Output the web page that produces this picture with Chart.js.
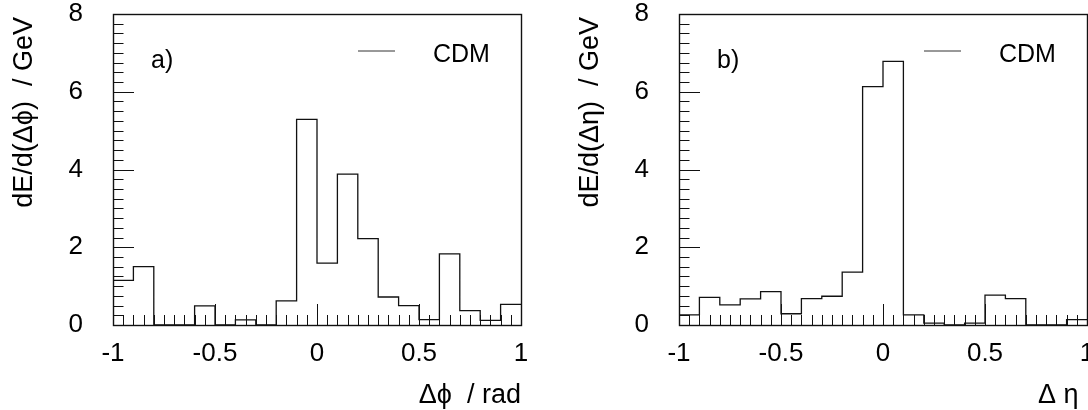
<!DOCTYPE html>
<html><head><meta charset="utf-8">
<script src="https://cdn.jsdelivr.net/npm/chart.js@4.4.1/dist/chart.umd.min.js"></script>
<style>
html,body{margin:0;padding:0;background:#fff;}
#wrap{position:relative;width:1088px;height:410px;overflow:hidden;}
canvas{position:absolute;top:0;}
</style></head>
<body><div id="wrap"><canvas id="ca" width="566" height="410" style="left:0"></canvas><canvas id="cb" width="566" height="410" style="left:566px"></canvas></div>
<script>
// bin edges: 20 bins of width 0.1 from -1 to 1
const binEdges = [-1,-0.9,-0.8,-0.7,-0.6,-0.5,-0.4,-0.3,-0.2,-0.1,0,0.1,0.2,0.3,0.4,0.5,0.6,0.7,0.8,0.9,1];
const dphiValues = [1.15,1.50,0,0,0.49,0,0.13,0,0.62,5.29,1.59,3.88,2.22,0.72,0.50,0.14,1.83,0.37,0.12,0.53];
const detaValues = [0.26,0.71,0.52,0.67,0.86,0.29,0.68,0.74,1.36,6.13,6.78,0.26,0.05,0,0.05,0.77,0.68,0,0,0.14];
const xTickValues = [-1,-0.5,0,0.5,1];
const xTickLabels = ['-1','-0.5','0','0.5','1'];
const yTickValues = [0,2,4,6,8];
const yTickLabels = ['0','2','4','6','8'];

const FONT = "'Liberation Sans', Arial, Helvetica, sans-serif";

function makePoints(vals){
  const pts = vals.map((v,i)=>({x:binEdges[i], y:v}));
  pts.push({x:binEdges[binEdges.length-1], y:vals[vals.length-1]});
  return pts;
}

function framePlugin(cfg){
  return {
    id:'frame',
    afterDraw(chart){
      const ctx = chart.ctx, a = chart.chartArea;
      const xs = chart.scales.x, ys = chart.scales.y;
      ctx.save();
      ctx.strokeStyle = '#111';
      ctx.lineWidth = 1;
      ctx.beginPath();
      // inward ticks on x
      for(let k=0;k<=40;k++){
        const v = -1 + k*0.05;
        const px = Math.round(xs.getPixelForValue(v))+0.5;
        const len = (k%10===0) ? 21 : 10;
        ctx.moveTo(px, a.bottom); ctx.lineTo(px, a.bottom-len);
      }
      // inward ticks on y
      for(let k=0;k<=32;k++){
        const v = k*0.25;
        const py = Math.round(ys.getPixelForValue(v))+0.5;
        const len = (k%8===0) ? 21 : 10.5;
        ctx.moveTo(a.left, py); ctx.lineTo(a.left+len, py);
      }
      ctx.stroke();
      // frame
      ctx.lineWidth = 1.4;
      ctx.strokeRect(Math.round(a.left)+0.5, Math.round(a.top)+0.5, Math.round(a.right-a.left), Math.round(a.bottom-a.top));
      // legend
      ctx.lineWidth = 1;
      ctx.strokeStyle = '#333';
      ctx.beginPath();
      ctx.moveTo(a.left+245, 51); ctx.lineTo(a.left+282, 51);
      ctx.stroke();
      ctx.fillStyle = '#000';
      ctx.font = '25px ' + FONT;
      ctx.textBaseline = 'alphabetic';
      ctx.textAlign = 'left';
      ctx.fillText('CDM', a.left+320, 62);
      ctx.fillText(cfg.tag, a.left+38, 68);
      // x title
      ctx.font = '27px ' + FONT;
      ctx.textBaseline = 'middle';
      ctx.textAlign = cfg.xTitleAlign;
      ctx.fillText(cfg.xTitle, cfg.xTitleX, 396);
      // y title
      ctx.save();
      ctx.translate(25, 17);
      ctx.rotate(-Math.PI/2);
      ctx.textAlign = 'right';
      ctx.fillText(cfg.yTitle, 0, 0);
      ctx.restore();
      ctx.restore();
    }
  };
}

function makePanel(id, vals, cfg){
  new Chart(document.getElementById(id), {
    type:'line',
    data:{datasets:[{data:makePoints(vals), stepped:'before', borderColor:'#111', borderWidth:1.3, pointRadius:0, fill:false}]},
    options:{
      responsive:false, animation:false,
      layout:{padding:{left:0, top:14, right:45, bottom:0}},
      plugins:{legend:{display:false}, tooltip:{enabled:false}},
      scales:{
        x:{type:'linear', min:-1, max:1,
           afterBuildTicks(s){ s.ticks = xTickValues.map(v=>({value:v})); },
           ticks:{autoSkip:false, maxRotation:0, padding:13, color:'#000', font:{family:FONT, size:26},
                  callback:(v)=>{const i=xTickValues.indexOf(v); return i>=0?xTickLabels[i]:'';}},
           grid:{display:false, drawTicks:false}, border:{display:false},
           afterFit(s){ s.height = 85; s.paddingLeft = 0; s.paddingRight = 0; s.paddingTop = 0; s.paddingBottom = 0; }},
        y:{type:'linear', min:0, max:8,
           afterBuildTicks(s){ s.ticks = yTickValues.map(v=>({value:v})); },
           ticks:{autoSkip:false, padding:30, color:'#000', font:{family:FONT, size:26},
                  callback:(v)=>{const i=yTickValues.indexOf(v); return i>=0?yTickLabels[i]:'';}},
           grid:{display:false, drawTicks:false}, border:{display:false},
           afterFit(s){ s.width = 113; s.paddingTop = 0; s.paddingBottom = 0; s.paddingLeft = 0; s.paddingRight = 0; }}
      }
    },
    plugins:[framePlugin(cfg)]
  });
}

makePanel('ca', dphiValues, {tag:'a)', xTitle:'\u0394\u03d5  / rad', xTitleX:521, xTitleAlign:'right', yTitle:'dE/d(\u0394\u03d5)  / GeV'});
makePanel('cb', detaValues, {tag:'b)', xTitle:'\u0394 \u03b7', xTitleX:472, xTitleAlign:'left', yTitle:'dE/d(\u0394\u03b7)  / GeV'});
</script></body></html>
